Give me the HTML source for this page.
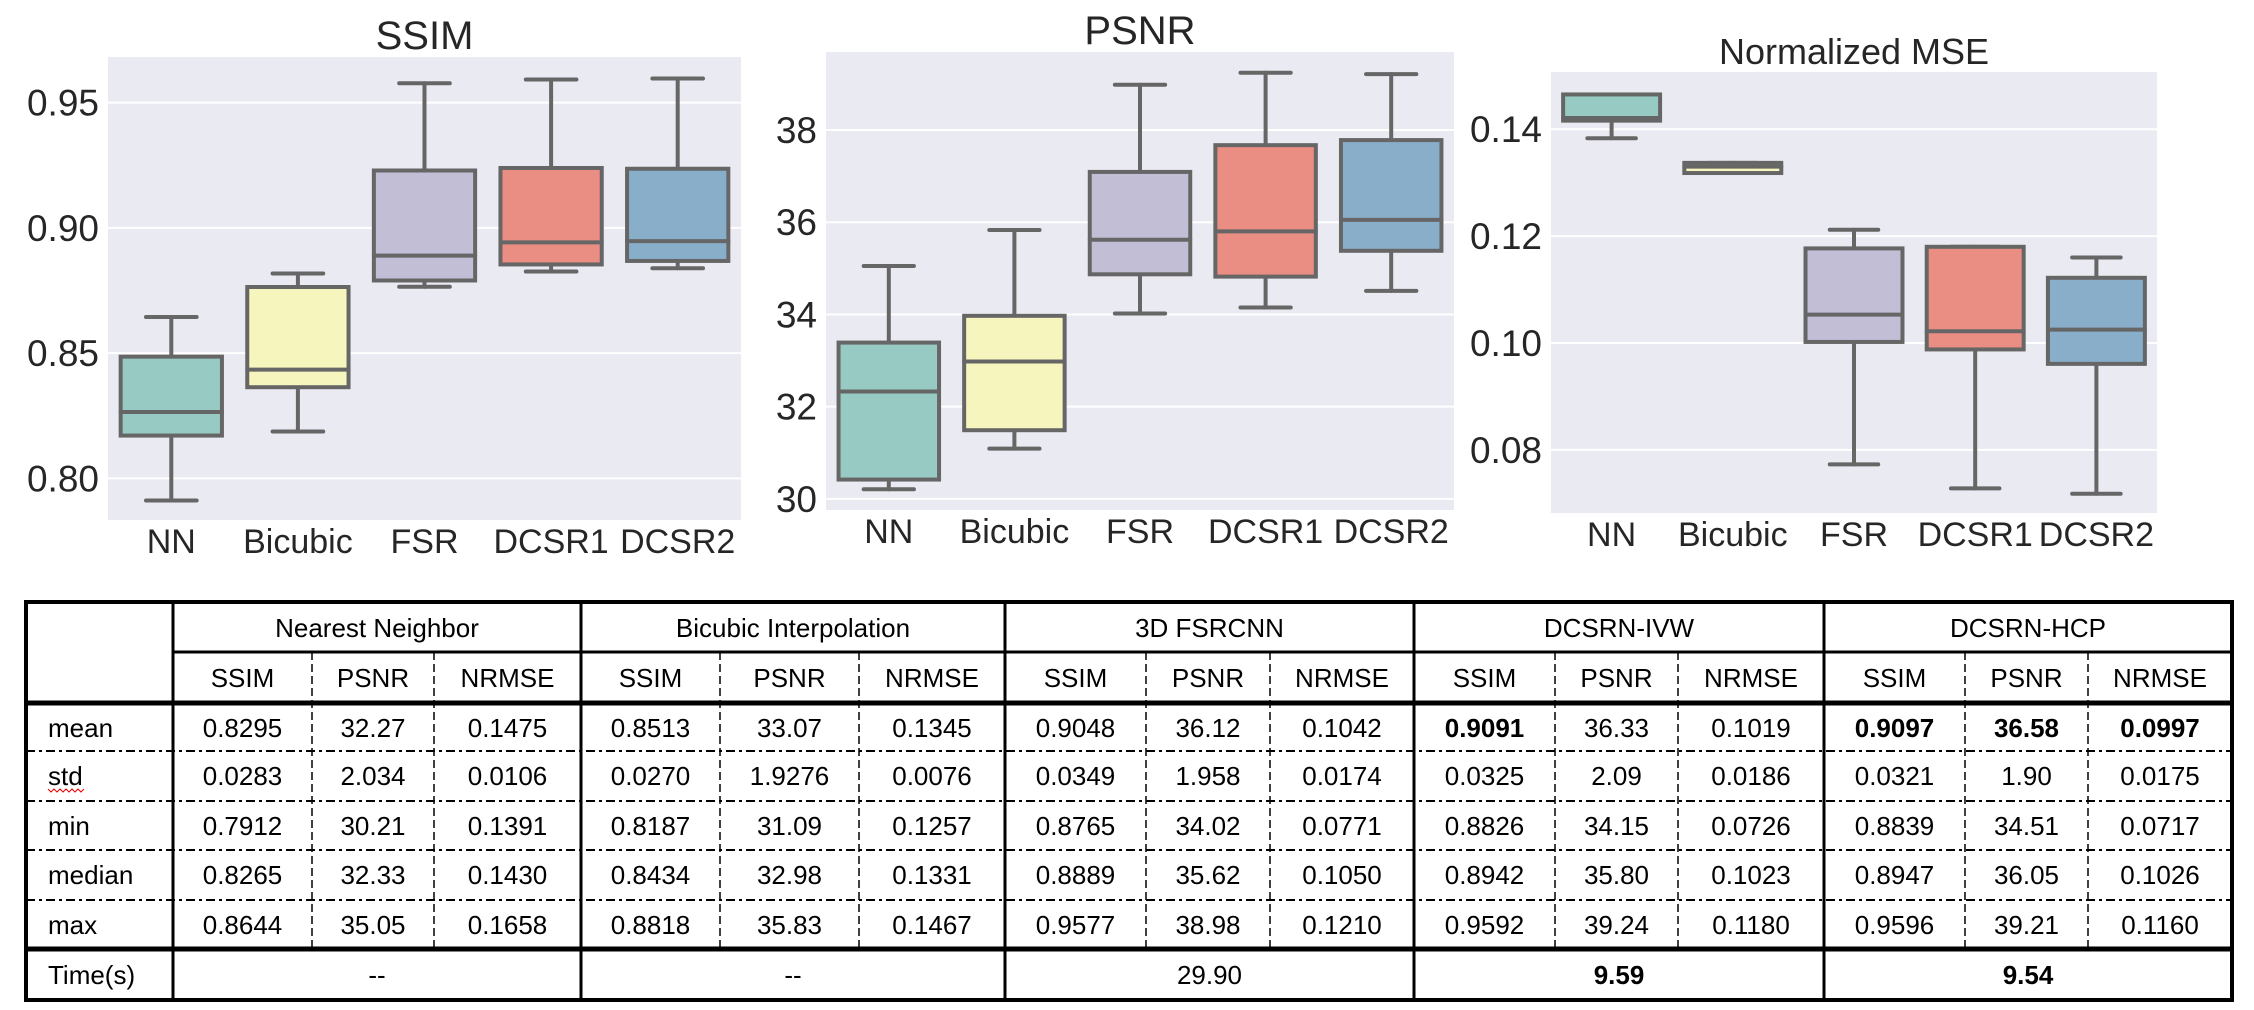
<!DOCTYPE html>
<html><head><meta charset="utf-8">
<style>
html,body{margin:0;padding:0;background:#fff;}
svg{display:block;}
</style></head>
<body>
<svg id="root" width="2254" height="1010" xmlns="http://www.w3.org/2000/svg">
<rect x="0" y="0" width="2254" height="1010" fill="#fff"/>
<g id="charts"></g>
<g id="table"></g>
</svg>
<script>
const categories = ["NN","Bicubic","FSR","DCSR1","DCSR2"];
const colors = ["#97cac2","#f6f5bd","#c1bed6","#ea8d83","#89aeca"];

const ssimMin = [0.7912,0.8187,0.8765,0.8826,0.8839];
const ssimQ1  = [0.8171,0.8364,0.8790,0.8854,0.8868];
const ssimMed = [0.8265,0.8434,0.8889,0.8942,0.8947];
const ssimQ3  = [0.8486,0.8764,0.9229,0.9239,0.9236];
const ssimMax = [0.8644,0.8818,0.9577,0.9592,0.9596];
const ssimTicks = [0.80,0.85,0.90,0.95];
const ssimTickLabels = ["0.80","0.85","0.90","0.95"];

const psnrMin = [30.21,31.09,34.02,34.15,34.51];
const psnrQ1  = [30.42,31.49,34.87,34.82,35.38];
const psnrMed = [32.33,32.98,35.62,35.80,36.05];
const psnrQ3  = [33.39,33.97,37.09,37.67,37.78];
const psnrMax = [35.05,35.83,38.98,39.24,39.21];
const psnrTicks = [30,32,34,36,38];
const psnrTickLabels = ["30","32","34","36","38"];

const nmseMin = [0.1383,0.1318,0.0773,0.0728,0.0718];
const nmseQ1  = [0.1416,0.1318,0.1002,0.0988,0.0961];
const nmseMed = [0.1421,0.1330,0.1053,0.1022,0.1025];
const nmseQ3  = [0.1465,0.1337,0.1177,0.1180,0.1122];
const nmseMax = [0.1465,0.1337,0.1212,0.1180,0.1160];
const nmseTicks = [0.08,0.10,0.12,0.14];
const nmseTickLabels = ["0.08","0.10","0.12","0.14"];

const NS="http://www.w3.org/2000/svg";
function mk(tag, attrs, parent){const e=document.createElementNS(NS,tag);for(const k in attrs)e.setAttribute(k,attrs[k]);parent.appendChild(e);return e;}

function drawChart(c){
  const g=mk('g',{},document.getElementById('charts'));
  
  
  const yS=v=>c.y1+(c.dTop-v)/(c.dTop-c.dBot)*(c.y2-c.y1);
  const step=(c.x2-c.x1)/categories.length;
  const xS=i=>c.x1+step*(i+0.5);
  const bg=mk('rect',{x:c.x1,y:c.y1,width:c.x2-c.x1,height:c.y2-c.y1,fill:'#eaeaf2'},g);
  
  
  c.ticks.forEach((t,i)=>{
    const y=yS(t);
    const gl=mk('line',{x1:c.x1,x2:c.x2,y1:y,y2:y,stroke:'#fff','stroke-width':2},g);
    
    
    const tl=mk('text',{x:c.x1-9,y:y+13,'text-anchor':'end','font-size':37,fill:'#262626','font-family':'Liberation Sans, sans-serif'},g);
    tl.textContent=c.tickLabels[i];
    
    
  });
  const bw=step*0.8, cw=bw/2;
  categories.forEach((cat,i)=>{
    const x=xS(i);
    const bx=mk('g',{},g);
    
    
    const st={stroke:'#666','stroke-width':4,'stroke-linecap':'round'};
    mk('line',Object.assign({x1:x,x2:x,y1:yS(c.max[i]),y2:yS(c.q3[i])},st),bx);
    mk('line',Object.assign({x1:x,x2:x,y1:yS(c.q1[i]),y2:yS(c.min[i])},st),bx);
    mk('line',Object.assign({x1:x-cw/2,x2:x+cw/2,y1:yS(c.max[i]),y2:yS(c.max[i])},st),bx);
    mk('line',Object.assign({x1:x-cw/2,x2:x+cw/2,y1:yS(c.min[i]),y2:yS(c.min[i])},st),bx);
    mk('rect',{x:x-bw/2,y:yS(c.q3[i]),width:bw,height:Math.max(0,yS(c.q1[i])-yS(c.q3[i])),fill:colors[i],stroke:'#666','stroke-width':4},bx);
    mk('line',Object.assign({x1:x-bw/2,x2:x+bw/2,y1:yS(c.med[i]),y2:yS(c.med[i])},st),bx);
    const xl=mk('text',{x:x,y:c.y2+33,'text-anchor':'middle','font-size':34,fill:'#262626','font-family':'Liberation Sans, sans-serif'},g);
    xl.textContent=cat;
    
    
  });
  const tt=mk('text',{x:(c.x1+c.x2)/2,y:c.titleY,'text-anchor':'middle','font-size':c.titleSize,fill:'#262626','font-family':'Liberation Sans, sans-serif'},g);
  tt.textContent=c.title;
  
  
}

drawChart({name:'ssim-chart',title:'SSIM',titleY:49,titleSize:40,x1:108,x2:741,y1:57,y2:520,dTop:0.9682,dBot:0.7834,
  ticks:ssimTicks,tickLabels:ssimTickLabels,min:ssimMin,q1:ssimQ1,med:ssimMed,q3:ssimQ3,max:ssimMax});
drawChart({name:'psnr-chart',title:'PSNR',titleY:44,titleSize:40,x1:826,x2:1454,y1:52,y2:510,dTop:39.69,dBot:29.76,
  ticks:psnrTicks,tickLabels:psnrTickLabels,min:psnrMin,q1:psnrQ1,med:psnrMed,q3:psnrQ3,max:psnrMax});
drawChart({name:'nmse-chart',title:'Normalized MSE',titleY:64,titleSize:36,x1:1551,x2:2157,y1:72,y2:513,dTop:0.1507,dBot:0.0682,
  ticks:nmseTicks,tickLabels:nmseTickLabels,min:nmseMin,q1:nmseQ1,med:nmseMed,q3:nmseQ3,max:nmseMax});

// ---- table ----
const groups = ["Nearest Neighbor","Bicubic Interpolation","3D FSRCNN","DCSRN-IVW","DCSRN-HCP"];
const subHeads = ["SSIM","PSNR","NRMSE"];
const rowLabels = ["mean","std","min","median","max"];
const tableRows = [
 ["0.8295","32.27","0.1475","0.8513","33.07","0.1345","0.9048","36.12","0.1042","0.9091","36.33","0.1019","0.9097","36.58","0.0997"],
 ["0.0283","2.034","0.0106","0.0270","1.9276","0.0076","0.0349","1.958","0.0174","0.0325","2.09","0.0186","0.0321","1.90","0.0175"],
 ["0.7912","30.21","0.1391","0.8187","31.09","0.1257","0.8765","34.02","0.0771","0.8826","34.15","0.0726","0.8839","34.51","0.0717"],
 ["0.8265","32.33","0.1430","0.8434","32.98","0.1331","0.8889","35.62","0.1050","0.8942","35.80","0.1023","0.8947","36.05","0.1026"],
 ["0.8644","35.05","0.1658","0.8818","35.83","0.1467","0.9577","38.98","0.1210","0.9592","39.24","0.1180","0.9596","39.21","0.1160"]
];
const boldCells = ["0-9","0-12","0-13","0-14"];
const times = ["--","--","29.90","9.59","9.54"];
const boldTimes = [false,false,false,true,true];

(function(){
  const T=document.getElementById('table');
  const L=26,R=2232,labR=173;
  const gx=[173,581,1005,1414,1824,2232];
  const sub=[[312,434],[720,859],[1146,1270],[1555,1678],[1965,2088]];
  const yTop=602,yH1=652,yH2=703,rowB=[751,801,850,900],yT=949,yBot=1000;
  const ff='Liberation Sans, sans-serif';
  function txt(x,y,s,bold,anchor,name){
    const t=mk('text',{x:x,y:y,'text-anchor':anchor||'middle','font-size':26,fill:'#000','font-family':ff,'font-weight':bold?'bold':'normal'},T);
    t.textContent=s;
    
    
    return t;
  }
  rowB.forEach(y=>mk('line',{x1:L,x2:R,y1:y,y2:y,stroke:'#000','stroke-width':2,'stroke-dasharray':'9,4,3,4'},T));
  sub.forEach(p=>p.forEach(x=>mk('line',{x1:x,x2:x,y1:yH1,y2:yT,stroke:'#000','stroke-width':1.5,'stroke-dasharray':'8,4'},T)));
  mk('line',{x1:labR,x2:R,y1:yH1,y2:yH1,stroke:'#000','stroke-width':3},T);
  [yH2,yT].forEach(y=>mk('line',{x1:L,x2:R,y1:y,y2:y,stroke:'#000','stroke-width':5},T));
  gx.forEach(x=>mk('line',{x1:x,x2:x,y1:yTop,y2:yBot,stroke:'#000','stroke-width':3},T));
  mk('rect',{x:L,y:yTop,width:R-L,height:yBot-yTop,fill:'none',stroke:'#000','stroke-width':4},T);
  groups.forEach((g,i)=>txt((gx[i]+gx[i+1])/2,yTop+35,g,false,'middle','group-header'));
  groups.forEach((g,i)=>{
    const xs=[gx[i],sub[i][0],sub[i][1],gx[i+1]];
    subHeads.forEach((h,j)=>txt((xs[j]+xs[j+1])/2,yH1+35,h,false,'middle','metric-header'));
  });
  const rowTops=[yH2,...rowB];
  rowLabels.forEach((lab,r)=>{
    const cy=rowTops[r]+34;
    txt(48,cy,lab,false,'start','row-label');
    tableRows[r].forEach((v,c)=>{
      const gi=Math.floor(c/3),j=c%3;
      const xs=[gx[gi],sub[gi][0],sub[gi][1],gx[gi+1]];
      txt((xs[j]+xs[j+1])/2,cy,v,boldCells.indexOf(r+'-'+c)>=0,'middle','table-cell');
    });
  });
  const sq=mk('path',{d:'M48 789 l3 3 l3 -3 l3 3 l3 -3 l3 3 l3 -3 l3 3 l3 -3 l3 3 l3 -3 l3 3 l3 -3',fill:'none',stroke:'#e00','stroke-width':1},T);
  
  
  txt(48,yT+35,'Time(s)',false,'start','row-label');
  times.forEach((t,i)=>txt((gx[i]+gx[i+1])/2,yT+35,t,boldTimes[i],'middle','time-cell'));
})();
</script>
</body></html>
